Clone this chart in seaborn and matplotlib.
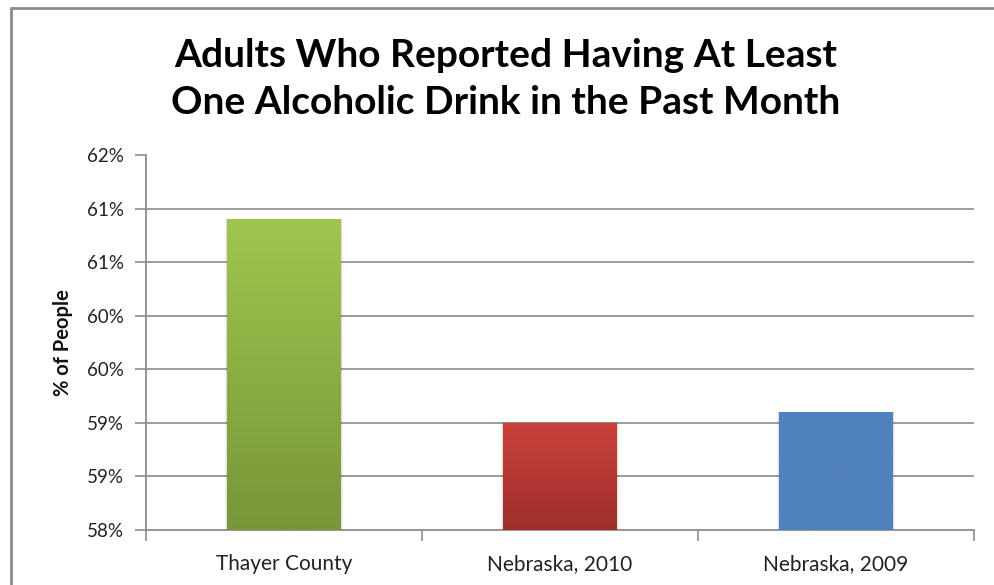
import numpy as np
import pandas as pd
import seaborn as sns
import matplotlib.pyplot as plt
from matplotlib.colors import LinearSegmentedColormap
from matplotlib.ticker import FuncFormatter
from matplotlib.lines import Line2D

# Survey values (% of adults)
categories = ["Thayer County", "Nebraska, 2010", "Nebraska, 2009"]
values = [60.9, 59.0, 59.1]
y_ticks = [58.0, 58.5, 59.0, 59.5, 60.0, 60.5, 61.0, 61.5]

title = "Adults Who Reported Having At Least\nOne Alcoholic Drink in the Past Month"
y_label = "% of People"

# top/bottom colours for each bar's vertical gradient
bar_gradients = [("#9FC64F", "#779638"), ("#CB413C", "#9E2F2B"), ("#4F81BD", "#4F81BD")]

sns.set_theme(style="white")
plt.rcParams["font.family"] = ["Lato", "DejaVu Sans"]

fig = plt.figure(figsize=(9.94, 5.85), dpi=100)
ax = fig.add_axes([146 / 994, 1 - 530 / 585, (974 - 146) / 994, (530 - 155) / 585])

df = pd.DataFrame({"category": categories, "value": values})
sns.barplot(data=df, x="category", y="value", ax=ax, width=0.41,
            palette=[c[0] for c in bar_gradients], hue="category",
            legend=False, saturation=1, zorder=3)

ax.set_ylim(y_ticks[0], y_ticks[-1])
ax.set_xlim(-0.5, len(categories) - 0.5)

# Vertical gradient fill clipped to each bar, with a faint shadow around it
for patch, (top, bottom) in zip(list(ax.patches), bar_gradients):
    x0, y0 = patch.get_x(), patch.get_y()
    w, h = patch.get_width(), patch.get_height()
    y_base = y_ticks[0]
    cmap = LinearSegmentedColormap.from_list("g", [bottom, top])
    grad = np.linspace(0, 1, 256).reshape(-1, 1)
    im = ax.imshow(grad, cmap=cmap, aspect="auto", origin="lower",
                   extent=(x0, x0 + w, y_base, y0 + h), zorder=4)
    im.set_clip_path(patch)
    patch.set_edgecolor("none")
    for grow, alpha in [(0.016, 0.05), (0.008, 0.07)]:
        ax.bar(x0 + w / 2, y0 + h - y_base + 0.004, width=w + grow, bottom=y_base,
               color="#000000", alpha=alpha, zorder=2, linewidth=0)

# Horizontal gridlines (none at the top of the scale)
for t in y_ticks[1:-1]:
    ax.axhline(t, color="#8C8C8C", lw=1.2, zorder=1)

ax.set_yticks(y_ticks)
ax.yaxis.set_major_formatter(FuncFormatter(lambda v, p: f"{int(np.floor(v + 0.5))}%"))
ax.set_xticks(range(len(categories)))
ax.set_xticklabels(categories)
ax.set_xticks([-0.5, 0.5, 1.5, 2.5], minor=True)

for side in ["top", "right"]:
    ax.spines[side].set_visible(False)
for side in ["left", "bottom"]:
    ax.spines[side].set_color("#8C8C8C")
    ax.spines[side].set_linewidth(1.3)

ax.tick_params(axis="y", which="major", left=True, length=8, width=1.2,
               color="#8C8C8C", labelsize=13.5, labelcolor="#222222", pad=8)
ax.tick_params(axis="x", which="major", bottom=False, labelsize=15,
               labelcolor="#222222", pad=11)
ax.tick_params(axis="x", which="minor", bottom=True, length=8, width=1.2,
               color="#8C8C8C")

ax.set_xlabel("")
ax.set_ylabel(y_label, fontsize=14.5, fontweight="bold", color="#111111", labelpad=10)

fig.text(506 / 994, 1 - 79 / 585, title, ha="center", va="center",
         fontsize=28, fontweight="bold", color="#000000", linespacing=1.42)

# Chart frame (left and top edges)
fig.add_artist(Line2D([11 / 994, 11 / 994], [0, 1 - 8 / 585],
                      transform=fig.transFigure, color="#8C8C8C", lw=2))
fig.add_artist(Line2D([11 / 994, 1], [1 - 8 / 585, 1 - 8 / 585],
                      transform=fig.transFigure, color="#8C8C8C", lw=2))

fig.savefig("out.png", dpi=100, facecolor="white")
